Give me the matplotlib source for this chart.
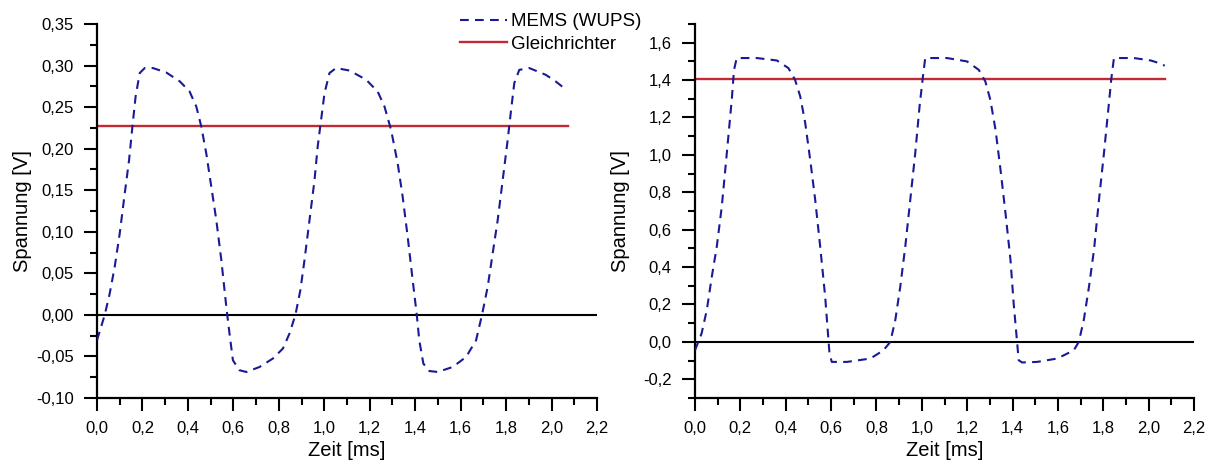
import matplotlib
matplotlib.use("Agg")
import matplotlib.pyplot as plt
from matplotlib.ticker import MultipleLocator, FuncFormatter

plt.rcParams['font.family'] = ['Liberation Sans', 'DejaVu Sans']

# left panel: MEMS (WUPS) signal, time in ms, voltage in V
t_left = [0.0, 0.034, 0.056, 0.078, 0.100, 0.122, 0.141, 0.156, 0.170, 0.188, 0.210,
          0.246, 0.305, 0.364, 0.407, 0.437, 0.459, 0.481, 0.503, 0.525, 0.547, 0.569,
          0.583, 0.598, 0.627, 0.657, 0.715, 0.774, 0.818, 0.847, 0.873, 0.895, 0.913,
          0.935, 0.957, 0.971, 0.986, 1.001, 1.023, 1.052, 1.111, 1.184, 1.235, 1.265,
          1.294, 1.323, 1.345, 1.367, 1.389, 1.407, 1.418, 1.436, 1.462, 1.499, 1.565,
          1.624, 1.668, 1.694, 1.719, 1.741, 1.763, 1.785, 1.807, 1.822, 1.836, 1.858,
          1.902, 1.975, 2.019, 2.056]
v_left = [-0.0305, 0.0, 0.0258, 0.058, 0.098, 0.146, 0.186, 0.227, 0.263, 0.291, 0.297,
          0.297, 0.2916, 0.281, 0.269, 0.2506, 0.2265, 0.194, 0.154, 0.114, 0.066, 0.0096,
          -0.0224, -0.0546, -0.0666, -0.0687, -0.0627, -0.0525, -0.0405, -0.0224, 0.0,
          0.030, 0.066, 0.114, 0.162, 0.2024, 0.2346, 0.2667, 0.291, 0.297, 0.294, 0.283,
          0.2687, 0.2506, 0.2225, 0.1824, 0.142, 0.094, 0.0418, 0.0, -0.0305, -0.0586,
          -0.0675, -0.0687, -0.0627, -0.0506, -0.0305, 0.0, 0.0337, 0.074, 0.114, 0.162,
          0.2105, 0.2466, 0.2788, 0.2948, 0.297, 0.2888, 0.2807, 0.2728]
dc_left = 0.2273

# right panel
t_right = [0.0, 0.029, 0.052, 0.074, 0.096, 0.118, 0.132, 0.147, 0.162, 0.172, 0.184,
           0.272, 0.361, 0.412, 0.441, 0.464, 0.486, 0.508, 0.530, 0.552, 0.574, 0.584,
           0.593, 0.603, 0.670, 0.773, 0.831, 0.861, 0.883, 0.905, 0.927, 0.949, 0.971,
           0.990, 1.005, 1.015, 1.111, 1.199, 1.251, 1.280, 1.302, 1.325, 1.347, 1.369,
           1.391, 1.405, 1.420, 1.427, 1.442, 1.508, 1.597, 1.670, 1.692, 1.714, 1.737,
           1.759, 1.781, 1.803, 1.825, 1.835, 1.847, 1.935, 2.009, 2.046, 2.071]
v_right = [-0.045, 0.045, 0.17, 0.348, 0.509, 0.723, 0.902, 1.098, 1.295, 1.455, 1.518,
           1.518, 1.505, 1.464, 1.402, 1.3125, 1.17, 0.973, 0.759, 0.509, 0.241, 0.080,
           -0.0625, -0.107, -0.107, -0.089, -0.045, 0.0, 0.116, 0.295, 0.509, 0.759, 1.009,
           1.259, 1.42, 1.518, 1.518, 1.50, 1.455, 1.393, 1.295, 1.134, 0.920, 0.6875,
           0.4375, 0.205, 0.0, -0.098, -0.11, -0.107, -0.089, -0.045, 0.0, 0.116, 0.295,
           0.491, 0.759, 1.009, 1.277, 1.402, 1.518, 1.518, 1.505, 1.491, 1.477]
dc_right = 1.405

t_dc_end = 2.073

fig = plt.figure(figsize=(12.12, 4.61), dpi=100)
W, H = 1212, 461
ax1 = fig.add_axes([97 / W, 1 - 398 / H, 500 / W, 374 / H])
ax2 = fig.add_axes([695 / W, 1 - 398 / H, 499 / W, 374 / H])

comma = lambda fmt: FuncFormatter(lambda v, p: (fmt % v).replace('.', ','))

panels = [
    (ax1, t_left, v_left, dc_left, (-0.10, 0.35), 0.05, 0.025, '%.2f'),
    (ax2, t_right, v_right, dc_right, (-0.3, 1.7), 0.2, 0.1, '%.1f'),
]
for ax, t, v, dc, ylim, ymaj, ymin, fmt in panels:
    ax.axhline(0, color='black', lw=1.5, zorder=1)
    ax.plot([0, t_dc_end], [dc, dc], color='#c22a33', lw=1.7, label='Gleichrichter', zorder=2)
    ax.plot(t, v, color='#1a1a96', lw=1.5, dashes=(4.2, 3.0), label='MEMS (WUPS)', zorder=3)
    ax.set_xlim(0, 2.2)
    ax.set_ylim(*ylim)
    ax.spines['top'].set_visible(False)
    ax.spines['right'].set_visible(False)
    for s in ('left', 'bottom'):
        ax.spines[s].set_linewidth(1.6)
    ax.xaxis.set_major_locator(MultipleLocator(0.2))
    ax.xaxis.set_minor_locator(MultipleLocator(0.1))
    ax.yaxis.set_major_locator(MultipleLocator(ymaj))
    ax.yaxis.set_minor_locator(MultipleLocator(ymin))
    ax.xaxis.set_major_formatter(comma('%.1f'))
    ax.yaxis.set_major_formatter(comma(fmt))
    ax.tick_params(which='major', direction='out', length=9.4, width=1.5, labelsize=12, pad=7.5)
    ax.tick_params(which='minor', direction='out', length=5, width=1.5)
    ax.set_xlabel('Zeit [ms]', fontsize=14.5)
    ax.set_ylabel('Spannung [V]', fontsize=14.5)
    ax.xaxis.set_label_coords(0.5, -0.115)
    ax.yaxis.set_label_coords(-0.13, 0.5)
    ax.set_facecolor('none')

h, l = ax1.get_legend_handles_labels()
fig.legend(h[::-1], l[::-1], loc='upper left', bbox_to_anchor=(460 / W, 1 - 13 / H),
           frameon=False, fontsize=13.5, handlelength=2.5, handletextpad=0.2,
           labelspacing=0.3, borderaxespad=0, borderpad=0)

fig.savefig('out.png', dpi=100)
